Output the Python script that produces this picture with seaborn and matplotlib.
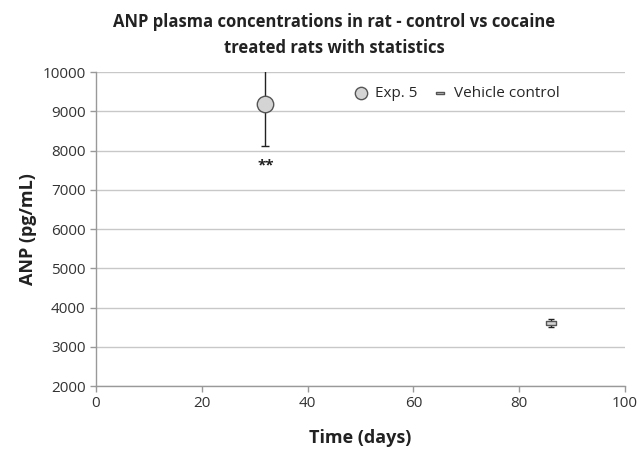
import matplotlib
matplotlib.use("Agg")
import matplotlib.pyplot as plt
import seaborn as sns
import pandas as pd

# Data
series = ["Exp. 5", "Vehicle control"]
time_days = [32, 86]
anp = [9180, 3600]
anp_err = [1070, 100]
sig_label = "**"
sig_y = 7630

sns.set_theme(style="whitegrid")
plt.rcParams['font.family'] = ['Open Sans', 'DejaVu Sans']

df = pd.DataFrame({"Time": time_days, "ANP": anp, "Series": series})

fig = plt.figure(figsize=(6.38, 4.5), dpi=100)
ax = fig.add_axes([0.1505, 0.1422, 0.8291, 0.6978])

rect = [(-1, -0.32), (1, -0.32), (1, 0.32), (-1, 0.32), (-1, -0.32)]
markers = {"Exp. 5": "o", "Vehicle control": rect}
sizes = {"Exp. 5": 140, "Vehicle control": 55}

for i, s in enumerate(series):
    sub = df[df.Series == s]
    ax.errorbar(sub.Time, sub.ANP, yerr=[anp_err[i]], fmt="none", ecolor="#222222",
                elinewidth=1, capsize=3 if i == 0 else 2.5, capthick=1, zorder=2)
    sns.scatterplot(data=sub, x="Time", y="ANP", ax=ax, marker=markers[s], s=sizes[s],
                    color="#d4d4d4", edgecolor="#555555", linewidth=1, label=s, zorder=3)

ax.text(time_days[0], sig_y, sig_label, ha="center", va="center", fontsize=11,
        fontweight="bold", color="#222222")

ax.set_xlim(0, 100)
ax.set_ylim(2000, 10000)
ax.set_xticks(range(0, 101, 20))
ax.set_yticks(range(2000, 10001, 1000))
ax.grid(axis="x", visible=False)
ax.grid(axis="y", color="#c8c8c8", linewidth=1)
for side in ["top", "right"]:
    ax.spines[side].set_visible(False)
for side in ["left", "bottom"]:
    ax.spines[side].set_color("#999999")
    ax.spines[side].set_linewidth(1)
ax.tick_params(axis="both", labelsize=11, colors="#333333", length=4, width=1,
               direction="out", bottom=True, left=True)
ax.tick_params(axis="both", color="#999999")

ax.set_xlabel("Time (days)", fontsize=13, fontweight="bold", color="#222222", labelpad=13)
ax.set_ylabel("ANP (pg/mL)", fontsize=13, fontweight="bold", color="#222222", labelpad=4)
fig.suptitle("ANP plasma concentrations in rat - control vs cocaine\ntreated rats with statistics",
             x=0.524, y=0.972, fontsize=12, fontweight="bold", color="#222222", linespacing=1.6)

leg = ax.legend(loc="upper right", bbox_to_anchor=(0.902, 1.0), ncol=2, frameon=False,
                fontsize=11, handlelength=1.0, handletextpad=0.4, columnspacing=1.0,
                markerscale=0.75)

fig.savefig("out.png", dpi=100)
